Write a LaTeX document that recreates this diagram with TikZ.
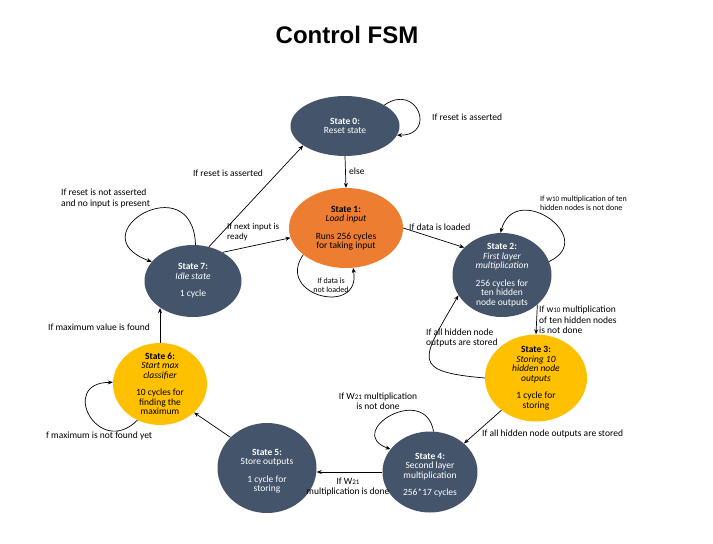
\documentclass[tikz,border=0pt]{standalone}
\usepackage{fontspec}
\setmainfont{Carlito}
\newfontfamily\headfont{Liberation Sans}
\usetikzlibrary{shapes.geometric,arrows.meta}
\definecolor{slate}{HTML}{44546A}
\definecolor{tangerine}{HTML}{ED7D31}
\definecolor{amber}{HTML}{FFC000}
\newcommand{\wsub}[1]{{\fontsize{7}{7}\selectfont #1}}

\begin{document}
\begin{tikzpicture}[x=1pt,y=-1pt,
    state/.style ={ellipse,fill=#1,draw=none,inner sep=0pt},
    state/.default=slate,
    statetext/.style={align=center,inner sep=0pt,font=\fontsize{9.5}{9.5}\selectfont,text=#1},
    statetext/.default=white,
    lbl/.style={align=left,inner sep=0pt,font=\fontsize{9.5}{10.5}\selectfont},
    arr/.style={-{Stealth[length=5pt,width=4pt]},line width=0.7pt}]
    \useasboundingbox[fill=white] (0,0) rectangle (713,544);
    \node[font=\headfont\bfseries\fontsize{24}{28}\selectfont] (title) at (347,35) {Control FSM};
    \node[state,minimum width=109pt,minimum height=60pt] (s0) at (345,126) {};
    \node[state=tangerine,minimum width=114pt,minimum height=80pt] (s1) at (346,228) {};
    \node[state,minimum width=99pt,minimum height=84pt] (s2) at (502,275) {};
    \node[state=amber,minimum width=102pt,minimum height=87pt] (s3) at (536,378) {};
    \node[state,minimum width=95pt,minimum height=81pt] (s4) at (430,472) {};
    \node[state,minimum width=99pt,minimum height=90pt] (s5) at (267,468) {};
    \node[state=amber,minimum width=94pt,minimum height=82pt] (s6) at (160,384) {};
    \node[state,minimum width=97pt,minimum height=72pt] (s7) at (193,281) {};
    \draw[arr] (s0.28) to[out=35,in=0,distance=40pt] (s0.-10);
    \draw[arr] (s0.south) -- (s1.north);
    \draw[arr] (s7.65) -- (s0.205);
    \draw[arr] (s7.86) to[out=92,in=160,distance=80pt] (s7.155);
    \draw[arr] (s7.44) -- (s1.190);
    \draw[arr] (s1.212) to[out=235,in=-80,distance=50pt] (s1.280);
    \draw[arr] (s1.0) -- (s2.144);
    \draw[arr] (s2.16) to[out=25,in=75,distance=55pt] (s2.92);
    \draw[arr] (s2.-40) -- (s3.north);
    \draw[arr] (s3.180) to[out=175,in=240,distance=75pt] (s2.205);
    \draw[arr] (s3.223) -- (s4.40);
    \draw[arr] (s4.85) to[out=100,in=160,distance=50pt] (s4.150);
    \draw[arr] (s4.west) -- (s4.west -| s5.east);
    \draw[arr] (s5.140) -- (s6.-40);
    \draw[arr] (s6.238) to[out=225,in=180,distance=55pt] (s6.178);
    \draw[arr] (s6.north) -- (s6.north |- s7.220);
    \node[statetext] (t0) at (s0) {\textbf{State 0:}\\Reset state};
    \node[statetext=black] (t1) at (s1) {\textbf{State 1:}\\\textit{Load input}\\[8pt]Runs 256 cycles\\for taking input};
    \node[statetext] (t2) at (s2) {\textbf{State 2:}\\\textit{First layer}\\\textit{multiplication}\\[8pt]256 cycles for\\ten hidden\\node outputs};
    \node[statetext=black] (t3) at (s3) {\textbf{State 3:}\\\textit{Storing 10}\\\textit{hidden node}\\\textit{outputs}\\[8pt]1 cycle for\\storing};
    \node[statetext] (t4) at ([yshift=-3]s4) {\textbf{State 4:}\\Second layer\\multiplication\\[8pt]256*17 cycles};
    \node[statetext] (t5) at ([yshift=-3]s5) {\textbf{State 5:}\\Store outputs\\[8pt]1 cycle for\\storing};
    \node[statetext=black] (t6) at (s6) {\textbf{State 6:}\\\textit{Start max}\\\textit{classifier}\\[8pt]10 cycles for\\finding the\\maximum};
    \node[statetext] (t7) at (s7) {\textbf{State 7:}\\\textit{Idle state}\\[8pt]1 cycle};
    \node[lbl,anchor=west] (l00) at (432,117) {If reset is asserted};
    \node[lbl,anchor=west] (l01) at (349,171) {else};
    \node[lbl] (l70) at (228,173) {If reset is asserted};
    \node[lbl,anchor=west] (l77) at (61,198.5) {If reset is not asserted\\and no input is present};
    \node[lbl,anchor=west,font=\fontsize{9}{10}\selectfont] (l71) at (227,232) {If next input is\\ready};
    \node[lbl,anchor=west] (l12) at (409,227) {If data is loaded};
    \node[lbl,align=center,font=\fontsize{8}{9}\selectfont] (l11) at (331,285) {If data is\\not loaded};
    \node[lbl,anchor=west,font=\fontsize{8}{9}\selectfont] (l22) at (540,203) {If w\wsub{10} multiplication of ten\\hidden nodes is not done};
    \node[lbl,anchor=west] (l23) at (539,320) {If w\wsub{10} multiplication\\of ten hidden nodes\\is not done};
    \node[lbl,anchor=west] (l32) at (426,338) {If all hidden node\\outputs are stored};
    \node[lbl,anchor=west] (l34) at (482,434) {If all hidden node outputs are stored};
    \node[lbl,align=center] (l44) at (378,401) {If W\wsub{21}\ multiplication\\is not done};
    \node[lbl,align=center] (l45) at (348,487) {If W\wsub{21}\\multiplication is done};
    \node[lbl,anchor=west] (l66) at (46,436) {f maximum is not found yet};
    \node[lbl,anchor=west] (l67) at (48,327) {If maximum value is found};
\end{tikzpicture}
\end{document}
